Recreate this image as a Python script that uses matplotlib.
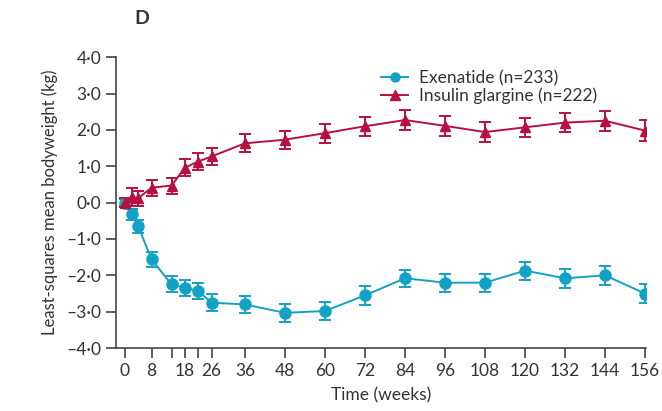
import numpy as np
from matplotlib import pyplot as plt
from matplotlib.lines import Line2D

plt.rcParams['font.family'] = ['Lato', 'DejaVu Sans']

weeks = [0, 2, 4, 8, 14, 18, 22, 26, 36, 48, 60, 72, 84, 96, 108, 120, 132, 144, 156]

exen_mean = [0.0, -0.32, -0.65, -1.56, -2.25, -2.34, -2.43, -2.75, -2.8, -3.03,
             -2.98, -2.55, -2.08, -2.2, -2.2, -1.87, -2.08, -2.0, -2.5]
exen_err = [0.1, 0.15, 0.18, 0.2, 0.22, 0.22, 0.22, 0.24, 0.24, 0.24,
            0.25, 0.26, 0.24, 0.25, 0.25, 0.25, 0.26, 0.27, 0.26]

glar_mean = [0.0, 0.15, 0.12, 0.41, 0.47, 0.96, 1.13, 1.27, 1.63, 1.73,
             1.91, 2.1, 2.27, 2.11, 1.94, 2.07, 2.2, 2.25, 1.98]
glar_err = [0.12, 0.25, 0.2, 0.22, 0.22, 0.24, 0.24, 0.24, 0.25, 0.25,
            0.26, 0.26, 0.27, 0.27, 0.27, 0.27, 0.27, 0.27, 0.28]

xticks = [0, 8, 14, 18, 22, 26, 36, 48, 60, 72, 84, 96, 108, 120, 132, 144, 156]
xlabels = ['0', '8', '', '18', '', '26', '36', '48', '60', '72', '84', '96',
           '108', '120', '132', '144', '156']
yticks = [-4, -3, -2, -1, 0, 1, 2, 3, 4]
ylabels = ['–4·0', '–3·0', '–2·0', '–1·0', '0·0', '1·0', '2·0', '3·0', '4·0']

cyan = '#12a2c6'
red = '#b8103e'
txt = '#333333'

fig = plt.figure(figsize=(6.62, 4.11), dpi=100)
ax = fig.add_axes([0.175, 0.153, 0.801, 0.708])

ax.errorbar(weeks, exen_mean, yerr=exen_err, color=cyan, marker='o', markersize=8,
            linewidth=1.4, elinewidth=1.4, capsize=4.5, capthick=1.4, zorder=3)
ax.errorbar(weeks, glar_mean, yerr=glar_err, color=red, marker='^', markersize=7.5,
            linewidth=1.4, elinewidth=1.4, capsize=4.5, capthick=1.4, zorder=4)

ax.set_xlim(-2.7, 156.3)
ax.set_ylim(-4, 4)
ax.set_xticks(xticks)
ax.set_xticklabels(xlabels)
ax.set_yticks(yticks)
ax.set_yticklabels(ylabels)

for s in ['top', 'right']:
    ax.spines[s].set_visible(False)
for s in ['left', 'bottom']:
    ax.spines[s].set_color('#444444')
    ax.spines[s].set_linewidth(1.2)
ax.tick_params(colors='#444444', labelcolor=txt, labelsize=12.5, length=7, width=1.2)

ax.set_xlabel('Time (weeks)', fontsize=12.5, color=txt, labelpad=6)
ax.set_ylabel('Least-squares mean bodyweight (kg)', fontsize=12, color=txt, labelpad=6)

handles = [Line2D([], [], color=cyan, marker='o', markersize=6.5, linewidth=1.4),
           Line2D([], [], color=red, marker='^', markersize=6.5, linewidth=1.4)]
leg = ax.legend(handles, ['Exenatide (n=233)', 'Insulin glargine (n=222)'],
                loc='upper left', bbox_to_anchor=(0.47, 1.01), frameon=False,
                fontsize=12.5, handlelength=1.6, labelspacing=0.1, handletextpad=0.6)
for t in leg.get_texts():
    t.set_color(txt)

fig.text(0.203, 0.955, 'D', fontsize=14, fontweight='bold', color=txt, va='center')

plt.savefig('out.png', dpi=100)
